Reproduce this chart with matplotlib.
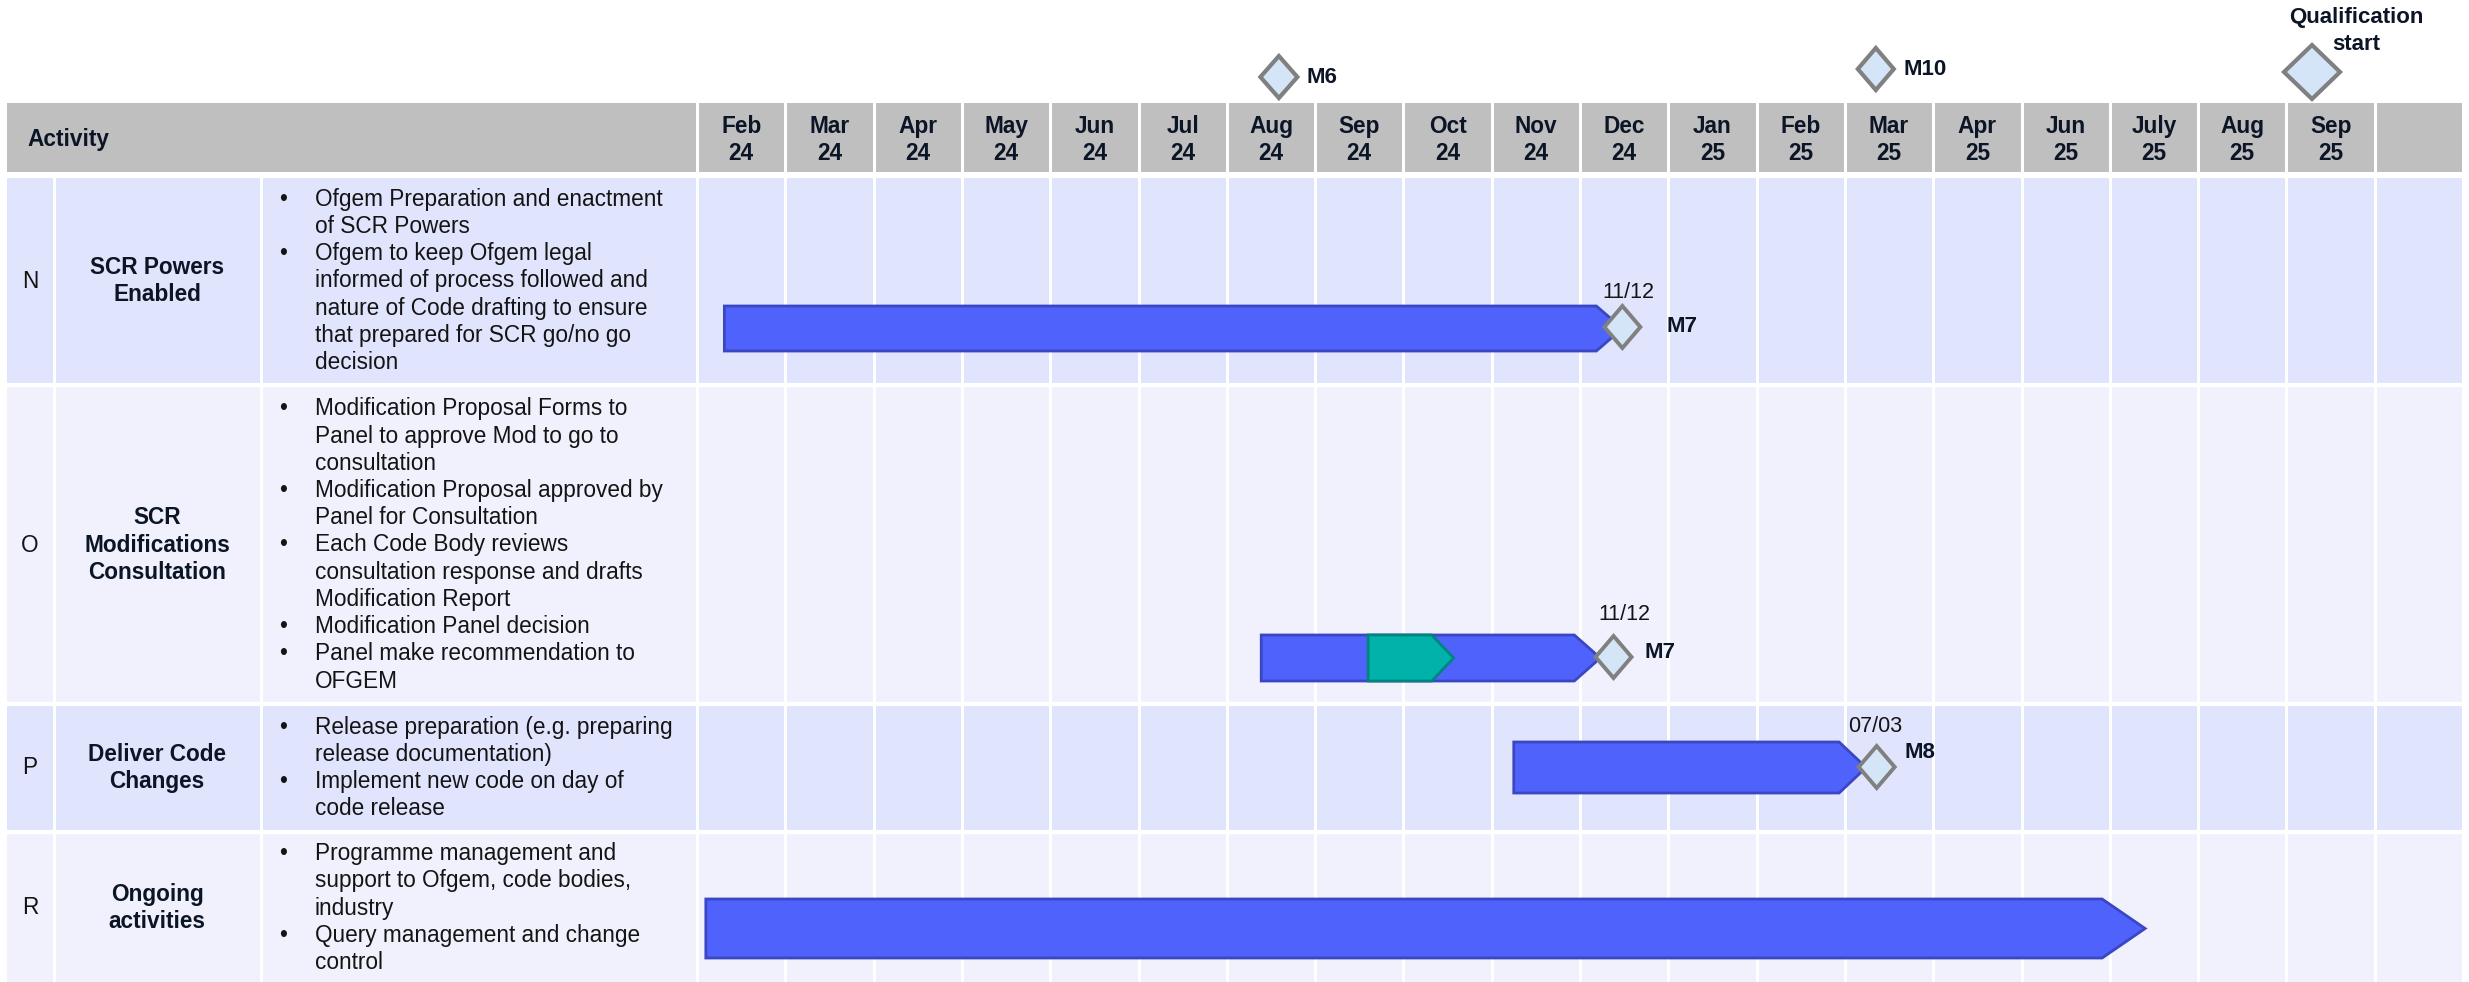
import matplotlib
matplotlib.use("Agg")
import matplotlib.pyplot as plt
from matplotlib.patches import Polygon, Rectangle

plt.rcParams['font.family'] = ['Liberation Sans', 'DejaVu Sans']

# ---------------------------------------------------------------
# Data
# ---------------------------------------------------------------
months = ['Feb\n24', 'Mar\n24', 'Apr\n24', 'May\n24', 'Jun\n24', 'Jul\n24',
          'Aug\n24', 'Sep\n24', 'Oct\n24', 'Nov\n24', 'Dec\n24', 'Jan\n25',
          'Feb\n25', 'Mar\n25', 'Apr\n25', 'Jun\n25', 'July\n25', 'Aug\n25',
          'Sep\n25', '']

row_letters = ['N', 'O', 'P', 'R']
row_titles = ['SCR Powers\nEnabled',
              'SCR\nModifications\nConsultation',
              'Deliver Code\nChanges',
              'Ongoing\nactivities']
row_bullets = [
    [['Ofgem Preparation and enactment', 'of SCR Powers'],
     ['Ofgem to keep Ofgem legal', 'informed of process followed and',
      'nature of Code drafting to ensure', 'that prepared for SCR go/no go',
      'decision']],
    [['Modification Proposal Forms to', 'Panel to approve Mod to go to',
      'consultation'],
     ['Modification Proposal approved by', 'Panel for Consultation'],
     ['Each Code Body reviews', 'consultation response and drafts',
      'Modification Report'],
     ['Modification Panel decision'],
     ['Panel make recommendation to', 'OFGEM']],
    [['Release preparation (e.g. preparing', 'release documentation)'],
     ['Implement new code on day of', 'code release']],
    [['Programme management and', 'support to Ofgem, code bodies,',
      'industry'],
     ['Query management and change', 'control']],
]

# bars, in months counted from the start of Feb 24 (arrow tip at end)
bar_start = [0.31, 6.39, 9.25, 0.10]
bar_end = [10.48, 10.23, 13.24, 16.40]
# teal sub-activity in row O
sub_row = 1
sub_start = 7.60
sub_end = 8.57

# milestones inside the rows
ms_row = [0, 1, 2]
ms_x = [10.48, 10.38, 13.36]
ms_name = ['M7', 'M7', 'M8']
ms_date = ['11/12', '11/12', '07/03']

# milestones above the header
top_x = [6.59, 13.35, 18.29]
top_name = ['M6', 'M10', 'Qualification\nstart']

# ---------------------------------------------------------------
# Layout (pixels of the 2469 x 982 figure)
# ---------------------------------------------------------------
W, H = 2469, 982
X0, CW = 697, 88.3            # left edge of Feb 24 column, column width


def X(p):
    return (p - X0) / CW


def dx(p):
    return p / CW


row_top = [178, 387, 706, 834]
row_bot = [384, 703, 830, 995]
row_bg = ['#E0E4FC', '#F0F1FC', '#E0E4FC', '#F0F1FC']
bar_y = [(306, 351), (635, 681), (742, 793), (899, 958)]
bar_tip = [26, 26, 27, 43]
sub_tip = 22
ms_y = [327, 657, 767]
ms_date_off = [(6, -34), (11, -42), (-2, -41)]
ms_name_off = [(44, -1), (31, -5), (28, -14)]
top_y = [77, 69, 72]
top_size = [(18.5, 21), (18, 21), (28, 27)]

LINE = 27.2
FS = 16.3
TXT = '#141414'
DARK = '#0B1526'
BAR_FC, BAR_EC = '#5062FC', '#3A46C2'
SUB_FC, SUB_EC = '#00B2A9', '#00857E'
DIA_FC, DIA_EC = '#D5E5F8', '#808080'

fig = plt.figure(figsize=(W / 100, H / 100), dpi=100)
ax = fig.add_axes([0, 0, 1, 1])
ax.set_xlim(X(0), X(W))
ax.set_ylim(H, 0)
ax.axis('off')


def lines_text(x, yc, text, **kw):
    parts = text.split('\n')
    n = len(parts)
    for i, s in enumerate(parts):
        ax.text(x, yc + (i - (n - 1) / 2) * LINE, s, va='center', **kw)


def diamond(xc, yc, hw, hh, lw=2.8):
    pts = [(xc - dx(hw), yc), (xc, yc - hh), (xc + dx(hw), yc), (xc, yc + hh)]
    ax.add_patch(Polygon(pts, closed=True, fc=DIA_FC, ec=DIA_EC, lw=lw,
                         joinstyle='miter', zorder=6))


def arrow(x1, x2, y1, y2, tip, fc, ec, z):
    ym = (y1 + y2) / 2
    pts = [(x1, y1), (x2 - dx(tip), y1), (x2, ym), (x2 - dx(tip), y2), (x1, y2)]
    ax.add_patch(Polygon(pts, closed=True, fc=fc, ec=ec, lw=2,
                         joinstyle='miter', zorder=z))


# header
ax.add_patch(Rectangle((X(7), 103), X(2463) - X(7), 69, fc='#BFBFBF', ec='none', zorder=1))
ax.text(X(27), 139, 'Activity', fontsize=FS, fontweight='bold', color=DARK, va='center')
for i, m in enumerate(months):
    lines_text(i + 0.5, 140, m, fontsize=FS, fontweight='bold', color=DARK, ha='center')

# row backgrounds and text
for r in range(len(row_letters)):
    ax.add_patch(Rectangle((X(7), row_top[r]), X(2463) - X(7), row_bot[r] - row_top[r],
                           fc=row_bg[r], ec='none', zorder=1))
    yc = (row_top[r] + min(row_bot[r], 982)) / 2
    ax.text(X(30), yc, row_letters[r], fontsize=FS, color=TXT, ha='center', va='center')
    lines_text(X(157), yc, row_titles[r], fontsize=FS, fontweight='bold', color=DARK, ha='center')
    n = sum(len(b) for b in row_bullets[r])
    k = 0
    for item in row_bullets[r]:
        for j, s in enumerate(item):
            y = yc + (k - (n - 1) / 2) * LINE
            if j == 0:
                ax.text(X(283), y, '•', fontsize=FS, color=TXT, ha='center', va='center')
            ax.text(X(315), y, s, fontsize=FS, color=TXT, va='center')
            k += 1

# white separators
for p in [54, 261]:
    ax.plot([X(p), X(p)], [row_top[0], H], color='white', lw=2.2, zorder=2)
for i in range(len(months) + 1):
    ax.plot([i, i], [103, H], color='white', lw=2.2, zorder=2)
for r in range(1, len(row_top)):
    ax.plot([X(7), X(2463)], [row_top[r] - 2, row_top[r] - 2], color='white', lw=3, zorder=2)

# bars
for r in range(len(bar_start)):
    arrow(bar_start[r], bar_end[r], bar_y[r][0], bar_y[r][1], bar_tip[r], BAR_FC, BAR_EC, 4)
arrow(sub_start, sub_end, bar_y[sub_row][0], bar_y[sub_row][1], sub_tip, SUB_FC, SUB_EC, 5)

# row milestones
for i in range(len(ms_row)):
    diamond(ms_x[i], ms_y[i], 18, 21)
    ax.text(ms_x[i] + dx(ms_date_off[i][0]), ms_y[i] + ms_date_off[i][1], ms_date[i],
            fontsize=15.5, color=TXT, ha='center', va='center', zorder=7)
    ax.text(ms_x[i] + dx(ms_name_off[i][0]), ms_y[i] + ms_name_off[i][1], ms_name[i],
            fontsize=16, fontweight='bold', color=DARK, va='center', zorder=7)

# top milestones
for i in range(len(top_x)):
    diamond(top_x[i], top_y[i], top_size[i][0], top_size[i][1], lw=3)
for i in range(2):
    ax.text(top_x[i] + dx(28), top_y[i], top_name[i], fontsize=16, fontweight='bold',
            color=DARK, va='center')
lines_text(top_x[2] + dx(44), 31, top_name[2], fontsize=16, fontweight='bold',
           color=DARK, ha='center')

fig.savefig('out.png', dpi=100)
